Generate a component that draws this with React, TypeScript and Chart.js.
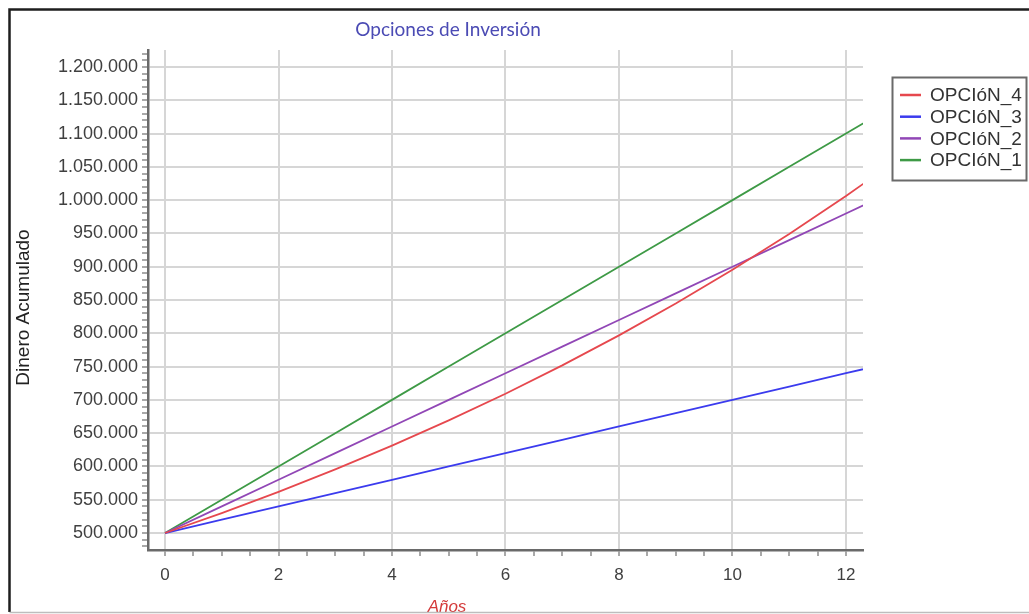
import React, { useEffect, useRef } from "react";
import { Chart, registerables } from "chart.js";

Chart.register(...registerables);

// ---- data ----
const YEARS = [0, 1, 2, 3, 4, 5, 6, 7, 8, 9, 10, 11, 12, 13];
const OPCION_4 = [500000, 530000, 561800, 595508, 631238, 669113, 709259, 751815, 796924, 844739, 895424, 949149, 1006098, 1066464];
const OPCION_3 = [500000, 520000, 540000, 560000, 580000, 600000, 620000, 640000, 660000, 680000, 700000, 720000, 740000, 760000];
const OPCION_2 = [500000, 540000, 580000, 620000, 660000, 700000, 740000, 780000, 820000, 860000, 900000, 940000, 980000, 1020000];
const OPCION_1 = [500000, 550000, 600000, 650000, 700000, 750000, 800000, 850000, 900000, 950000, 1000000, 1050000, 1100000, 1150000];

const SERIES_LABELS = ["OPCIóN_4", "OPCIóN_3", "OPCIóN_2", "OPCIóN_1"];
const SERIES_VALUES = [OPCION_4, OPCION_3, OPCION_2, OPCION_1];
const SERIES_COLORS = ["#e6484e", "#3b3bee", "#9147b6", "#3e9a46"];

const TITLE = "Opciones de Inversión";
const Y_TITLE = "Dinero Acumulado";
const X_TITLE = "Años";

const X_MIN = -0.3;
const X_MAX = 12.3;
const X_LABEL_STEP = 2;
const X_MINOR_STEP = 0.5;
const Y_MIN = 474500;
const Y_MAX = 1225500;
const Y_LABEL_STEP = 50000;
const Y_MINOR_STEP = 10000;

const fmtThousands = (v: number) =>
  Math.round(v).toString().replace(/\B(?=(\d{3})+(?!\d))/g, ".");

const isMult = (v: number, step: number) => {
  const r = v / step;
  return Math.abs(r - Math.round(r)) < 1e-6;
};

const stepTicks = (min: number, max: number, step: number) => {
  const out: { value: number }[] = [];
  for (let k = Math.ceil(min / step); k * step <= max; k++) out.push({ value: k * step });
  return out;
};

const decorPlugin = {
  id: "decor",
  beforeDraw(chart: any) {
    const ctx = chart.ctx;
    ctx.save();
    ctx.fillStyle = "#ffffff";
    ctx.fillRect(0, 0, chart.width, chart.height);
    ctx.restore();
  },
  afterDraw(chart: any) {
    const ctx = chart.ctx;
    const W = chart.width;
    ctx.save();

    // chart title
    ctx.fillStyle = "#4b4bb4";
    ctx.font = "19px Lato, Arial, sans-serif";
    ctx.textAlign = "center";
    ctx.textBaseline = "middle";
    ctx.fillText(TITLE, 448, 30);

    // y axis title
    ctx.save();
    ctx.translate(23.5, 307.5);
    ctx.rotate(-Math.PI / 2);
    ctx.fillStyle = "#222222";
    ctx.font = "19px Arial, 'Liberation Sans', sans-serif";
    ctx.textAlign = "center";
    ctx.textBaseline = "middle";
    ctx.fillText(Y_TITLE, 0, 0);
    ctx.restore();

    // x axis title (clipped by the bottom frame)
    ctx.save();
    ctx.beginPath();
    ctx.rect(0, 0, W, 612);
    ctx.clip();
    ctx.fillStyle = "#d43a3a";
    ctx.font = "italic 17px Arial, 'Liberation Sans', sans-serif";
    ctx.textAlign = "center";
    ctx.textBaseline = "middle";
    ctx.fillText(X_TITLE, 447, 607);
    ctx.restore();

    // legend
    const lx = 892.5, ly = 77.5, lw = 134, lh = 103;
    ctx.fillStyle = "#ffffff";
    ctx.fillRect(lx, ly, lw, lh);
    ctx.strokeStyle = "#6a6a6a";
    ctx.lineWidth = 2;
    ctx.strokeRect(lx, ly, lw, lh);
    ctx.font = "19px Arial, 'Liberation Sans', sans-serif";
    ctx.textAlign = "left";
    ctx.textBaseline = "middle";
    chart.data.datasets.forEach((ds: any, i: number) => {
      const y = 95 + i * 21.7;
      ctx.strokeStyle = ds.borderColor;
      ctx.lineWidth = 2.5;
      ctx.beginPath();
      ctx.moveTo(900, y);
      ctx.lineTo(921, y);
      ctx.stroke();
      ctx.fillStyle = "#333333";
      ctx.fillText(ds.label, 930, y + 1);
    });

    // outer frame
    ctx.strokeStyle = "#1e1e1e";
    ctx.lineWidth = 2.5;
    ctx.beginPath();
    ctx.moveTo(9.5, 612);
    ctx.lineTo(9.5, 9.5);
    ctx.lineTo(W, 9.5);
    ctx.stroke();
    ctx.strokeStyle = "#bdbdbd";
    ctx.lineWidth = 1.5;
    ctx.beginPath();
    ctx.moveTo(9.5, 612.5);
    ctx.lineTo(W, 612.5);
    ctx.stroke();

    ctx.restore();
  },
};

export default function App() {
  const canvasRef = useRef<HTMLCanvasElement | null>(null);

  useEffect(() => {
    if (!canvasRef.current) return;
    const datasets = SERIES_LABELS.map((label, i) => ({
      label,
      data: YEARS.map((x, j) => ({ x, y: SERIES_VALUES[i][j] })),
      borderColor: SERIES_COLORS[i],
      backgroundColor: SERIES_COLORS[i],
      borderWidth: 1.8,
      pointRadius: 0,
      tension: 0,
      fill: false,
    }));

    const xTickFont = { family: "Arial, 'Liberation Sans', sans-serif", size: 17 };
    const yTickFont = { family: "Arial, 'Liberation Sans', sans-serif", size: 18 };

    const chart = new Chart(canvasRef.current, {
      type: "line",
      data: { datasets },
      options: {
        responsive: false,
        animation: false,
        events: [],
        layout: { padding: { left: 12, top: 50, right: 166, bottom: 0 } },
        plugins: {
          legend: { display: false },
          title: { display: false },
          tooltip: { enabled: false },
        },
        scales: {
          x: {
            type: "linear",
            min: X_MIN,
            max: X_MAX,
            afterBuildTicks: (s: any) => {
              s.ticks = stepTicks(X_MIN, X_MAX, X_MINOR_STEP);
            },
            afterFit: (s: any) => {
              s.height = 64;
            },
            border: { color: "#6a6a6a", width: 2.5 },
            grid: {
              color: (c: any) =>
                c.tick && isMult(c.tick.value, X_LABEL_STEP) ? "#d6d6d6" : "rgba(0,0,0,0)",
              lineWidth: 2,
              tickColor: "#8c8c8c",
              tickLength: 6,
              tickWidth: 1.5,
            },
            ticks: {
              autoSkip: false,
              maxRotation: 0,
              padding: 9,
              color: "#404040",
              font: xTickFont,
              callback: (v: any) => (isMult(Number(v), X_LABEL_STEP) ? String(Math.round(Number(v))) : ""),
            },
          },
          y: {
            type: "linear",
            min: Y_MIN,
            max: Y_MAX,
            afterBuildTicks: (s: any) => {
              s.ticks = stepTicks(Y_MIN, Y_MAX, Y_MINOR_STEP);
            },
            afterFit: (s: any) => {
              s.width = 136;
            },
            border: { color: "#6a6a6a", width: 2.5 },
            grid: {
              color: (c: any) =>
                c.tick && isMult(c.tick.value, Y_LABEL_STEP) ? "#d6d6d6" : "rgba(0,0,0,0)",
              lineWidth: 2,
              tickColor: "#8c8c8c",
              tickLength: 6,
              tickWidth: 1.5,
            },
            ticks: {
              autoSkip: false,
              padding: 4,
              color: "#404040",
              font: yTickFont,
              callback: (v: any) => (isMult(Number(v), Y_LABEL_STEP) ? fmtThousands(Number(v)) : ""),
            },
          },
        },
      },
      plugins: [decorPlugin],
    });

    return () => chart.destroy();
  }, []);

  return (
    <div style={{ position: "absolute", left: 0, top: 0, width: 1029, height: 614 }}>
      <canvas ref={canvasRef} width={1029} height={614} style={{ display: "block" }} />
    </div>
  );
}
